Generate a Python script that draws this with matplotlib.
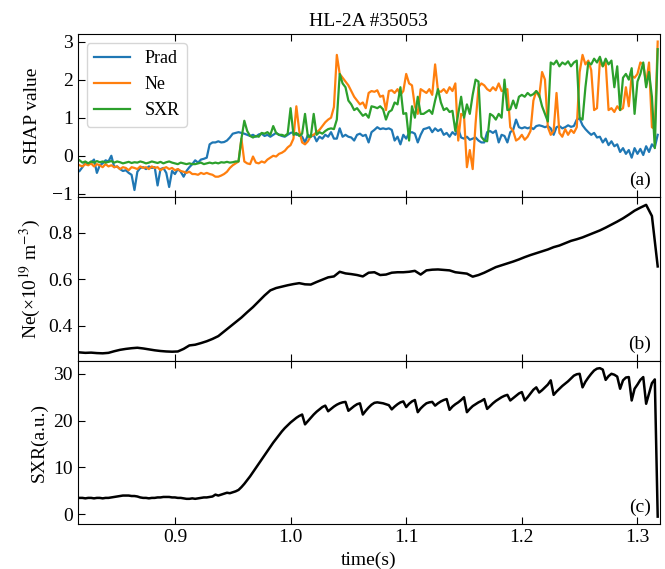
import numpy as np
import matplotlib
matplotlib.use('Agg')
import matplotlib.pyplot as plt

plt.rcParams['font.family'] = ['Liberation Serif', 'DejaVu Serif']
plt.rcParams['mathtext.fontset'] = 'stix'
plt.rcParams['font.size'] = 13

# time grid for the SHAP traces and the SXR signal (s)
t = np.linspace(0.8175, 1.3175, 201)
# coarser grid for the density trace
t_ne = np.linspace(0.8175, 1.3175, 101)

shap_prad = [
    -0.40, -0.30, -0.18, -0.22, -0.18, -0.10, -0.45, -0.25, -0.20, -0.12,
    -0.15, 0.00, -0.30, -0.28, -0.35, -0.40, -0.38, -0.45, -0.50, -0.90,
    -0.42, -0.32, -0.30, -0.35, -0.28, -0.32, -0.30, -0.78, -0.35, -0.32,
    -0.45, -0.82, -0.40, -0.48, -0.35, -0.42, -0.55, -0.40, -0.30, -0.22,
    -0.12, -0.18, -0.10, -0.08, -0.05, 0.30, 0.35, 0.35, 0.38, 0.35,
    0.36, 0.40, 0.48, 0.58, 0.60, 0.62, 0.60, 0.58, 0.55, 0.52,
    0.55, 0.50, 0.56, 0.58, 0.52, 0.55, 0.50, 0.55, 0.60, 0.55,
    0.52, 0.50, 0.55, 0.60, 0.62, 0.55, 0.58, 0.50, 0.35, 0.55,
    0.50, 0.55, 0.38, 0.50, 0.45, 0.55, 0.50, 0.62, 0.45, 0.45,
    0.72, 0.50, 0.55, 0.50, 0.48, 0.40, 0.55, 0.58, 0.52, 0.55,
    0.35, 0.62, 0.68, 0.75, 0.70, 0.72, 0.70, 0.72, 0.68, 0.40,
    0.50, 0.30, 0.55, 0.45, 0.60, 0.62, 0.58, 0.35, 0.55, 0.70,
    0.72, 0.75, 0.62, 0.72, 0.65, 0.70, 0.55, 0.60, 0.50, 0.62,
    0.55, 0.70, 0.48, 0.45, 0.50, 0.42, 0.45, 0.48, 0.40, 0.35,
    0.35, 0.62, 0.65, 0.60, 0.66, 0.35, 0.55, 0.52, 0.35, 0.62,
    0.68, 0.95, 0.75, 0.72, 0.75, 0.72, 0.75, 0.70, 0.78, 0.80,
    0.78, 0.75, 0.78, 0.72, 0.55, 0.75, 0.78, 0.72, 0.75, 0.80,
    0.76, 0.78, 0.95, 0.98, 0.80, 0.70, 0.62, 0.55, 0.60, 0.48,
    0.50, 0.35, 0.45, 0.28, 0.38, 0.25, 0.30, 0.10, 0.20, 0.05,
    0.15, -0.05, 0.20, 0.05, 0.18, 0.02, 0.25, 0.10, 0.30, 0.22,
    0.55,
]

shap_ne = [
    -0.25, -0.28, -0.22, -0.25, -0.20, -0.28, -0.22, -0.25, -0.30, -0.22,
    -0.28, -0.25, -0.30, -0.28, -0.35, -0.30, -0.32, -0.38, -0.30, -0.32,
    -0.35, -0.28, -0.32, -0.30, -0.35, -0.28, -0.32, -0.30, -0.38, -0.33,
    -0.30, -0.35, -0.32, -0.38, -0.35, -0.40, -0.42, -0.45, -0.42, -0.48,
    -0.48, -0.50, -0.45, -0.48, -0.45, -0.48, -0.50, -0.55, -0.55, -0.52,
    -0.48, -0.42, -0.32, -0.25, -0.20, -0.15, 0.45, -0.15, -0.20, -0.22,
    -0.02, -0.18, -0.20, -0.15, -0.18, -0.10, -0.05, 0.00, -0.02, 0.05,
    0.08, 0.13, 0.22, 0.28, 0.45, 1.30, 0.65, 0.35, 0.30, 0.38,
    0.52, 0.55, 0.62, 0.68, 0.78, 0.88, 0.95, 1.00, 1.28, 2.65,
    2.15, 2.05, 1.95, 1.85, 1.70, 1.55, 1.45, 1.35, 1.40, 1.25,
    1.65, 1.70, 1.68, 1.72, 1.55, 1.58, 1.20, 1.70, 1.72, 1.65,
    1.75, 1.60, 1.70, 2.15, 1.90, 1.85, 1.30, 1.10, 1.75, 1.70,
    1.65, 1.75, 1.60, 2.40, 1.70, 1.68, 1.75, 1.65, 1.80, 1.70,
    1.90, 0.40, 1.10, 1.05, -0.30, 0.15, -0.35, 0.85, 1.80, 1.90,
    1.85, 1.75, 1.70, 1.80, 1.72, 1.90, 1.70, 1.72, 1.75, 0.75,
    0.65, 0.40, 0.45, 0.55, 0.42, 0.50, 0.65, 1.45, 1.70, 1.55,
    2.20, 2.00, 0.75, 0.55, 0.65, 1.65, 0.60, 0.50, 0.70, 0.55,
    0.68, 0.60, 0.75, 2.20, 2.65, 2.40, 2.50, 2.25, 1.20, 1.25,
    2.50, 2.35, 2.45, 1.20, 1.25, 1.15, 1.30, 1.20, 1.25, 1.80,
    1.30, 2.10, 2.05, 2.15, 2.45, 2.40, 1.90, 2.45, 0.75, 0.70,
    3.00,
]

shap_sxr = [
    -0.12, -0.18, -0.15, -0.20, -0.15, -0.18, -0.14, -0.17, -0.15, -0.18,
    -0.16, -0.14, -0.18, -0.15, -0.17, -0.20, -0.18, -0.16, -0.19, -0.17,
    -0.18, -0.15, -0.17, -0.20, -0.18, -0.15, -0.17, -0.19, -0.16, -0.20,
    -0.17, -0.15, -0.18, -0.20, -0.22, -0.18, -0.20, -0.22, -0.20, -0.22,
    -0.22, -0.20, -0.18, -0.22, -0.20, -0.18, -0.20, -0.18, -0.20, -0.17,
    -0.18, -0.16, -0.18, -0.17, -0.15, -0.15, 0.45, 0.92, 0.65, 0.52,
    0.48, 0.52, 0.50, 0.60, 0.58, 0.62, 0.55, 0.78, 0.60, 0.55,
    0.55, 0.52, 0.58, 1.25, 0.55, 0.60, 0.52, 0.58, 1.10, 0.50,
    0.50, 1.10, 0.55, 0.62, 0.58, 0.65, 0.70, 0.72, 0.70, 0.95,
    2.15, 1.90, 1.80, 1.45, 1.35, 1.20, 1.25, 1.15, 1.05, 1.10,
    1.00, 1.30, 1.28, 1.25, 1.30, 1.22, 0.95, 1.15, 1.20, 1.40,
    1.35, 1.80, 1.10, 1.12, 0.40, 1.30, 1.00, 1.55, 1.10, 1.10,
    1.15, 1.20, 1.10, 1.45, 1.75, 1.40, 1.20, 1.25, 1.15, 1.18,
    0.65, 1.10, 1.55, 1.00, 1.35, 1.10, 1.60, 2.00, 1.95, 0.50,
    0.40, 0.38, 1.10, 1.05, 0.95, 1.10, 1.00, 2.00, 1.20, 1.22,
    1.45, 1.25, 1.55, 1.60, 1.55, 1.65, 1.58, 1.62, 1.70, 1.60,
    1.30, 1.10, 0.90, 2.45, 2.40, 2.50, 2.35, 2.45, 2.40, 2.48,
    2.35, 2.45, 2.50, 1.00, 0.95, 1.80, 2.45, 2.40, 2.55, 2.45,
    2.60, 2.35, 2.55, 2.40, 2.50, 1.80, 2.35, 1.20, 2.05, 2.15,
    2.00, 2.30, 1.10, 1.95, 2.15, 2.45, 1.80, 2.20, 1.55, 0.20,
    2.80,
]

ne = [
    0.285, 0.283, 0.284, 0.282, 0.281, 0.283, 0.290, 0.296, 0.300, 0.303,
    0.305, 0.302, 0.298, 0.294, 0.291, 0.289, 0.288, 0.289, 0.300, 0.315,
    0.318, 0.325, 0.333, 0.343, 0.355, 0.375, 0.395, 0.415, 0.435, 0.458,
    0.480, 0.505, 0.530, 0.552, 0.562, 0.568, 0.574, 0.579, 0.583, 0.578,
    0.577, 0.588, 0.598, 0.608, 0.612, 0.632, 0.625, 0.622, 0.618, 0.612,
    0.628, 0.630, 0.618, 0.620, 0.628, 0.630, 0.630, 0.632, 0.636, 0.620,
    0.638, 0.641, 0.642, 0.640, 0.638, 0.630, 0.627, 0.624, 0.611, 0.618,
    0.628, 0.640, 0.652, 0.660, 0.668, 0.676, 0.685, 0.695, 0.704, 0.712,
    0.720, 0.728, 0.738, 0.745, 0.755, 0.765, 0.772, 0.780, 0.790, 0.800,
    0.810, 0.822, 0.835, 0.848, 0.862, 0.878, 0.895, 0.908, 0.920, 0.872,
    0.655,
]

sxr = [
    3.5, 3.5, 3.4, 3.5, 3.5, 3.4, 3.5, 3.5, 3.4, 3.5,
    3.5, 3.6, 3.7, 3.8, 3.9, 4.0, 4.0, 4.0, 3.9, 3.9,
    3.8, 3.6, 3.5, 3.5, 3.4, 3.5, 3.5, 3.6, 3.6, 3.7,
    3.7, 3.7, 3.6, 3.6, 3.5, 3.5, 3.4, 3.3, 3.3, 3.4,
    3.3, 3.4, 3.5, 3.6, 3.6, 3.7, 3.8, 4.2, 4.0, 4.2,
    4.4, 4.6, 4.5, 4.7, 4.9, 5.2, 5.8, 6.5, 7.3, 8.1,
    9.0, 9.9, 10.8, 11.7, 12.6, 13.5, 14.4, 15.3, 16.1, 16.9,
    17.7, 18.4, 19.0, 19.6, 20.1, 20.6, 21.0, 21.3, 19.2, 19.9,
    20.6, 21.3, 21.9, 22.4, 22.9, 23.2, 22.0, 22.5, 23.0, 23.4,
    23.7, 23.9, 24.0, 22.1, 22.6, 23.1, 23.5, 23.7, 21.3, 22.1,
    22.8, 23.4, 23.8, 23.9, 23.8, 23.7, 23.5, 23.3, 22.4, 23.0,
    23.5, 23.9, 24.1, 22.9, 23.6, 24.1, 24.4, 21.8, 22.6, 23.2,
    23.7, 23.9, 24.0, 23.2, 23.7, 24.1, 24.4, 24.6, 22.3, 23.0,
    23.5, 23.9, 24.4, 25.0, 21.8, 22.5, 23.1, 23.5, 23.9, 24.2,
    24.6, 22.5, 23.1, 23.7, 24.2, 24.6, 25.0, 25.3, 25.5, 24.3,
    24.8, 25.3, 25.8, 26.1, 24.3, 25.0, 25.8, 26.6, 27.1, 26.0,
    26.5, 27.1, 27.7, 28.6, 25.5, 26.2, 26.8, 27.4, 27.9, 28.4,
    29.0, 29.6, 29.9, 30.0, 27.1, 28.3, 29.2, 30.0, 30.7, 31.1,
    31.2, 30.9, 28.7, 29.5, 30.0, 29.8, 29.4, 26.8, 28.6, 29.2,
    29.3, 24.3, 26.8, 27.7, 28.7, 29.3, 23.6, 25.8, 28.0, 28.8,
    -0.5,
]

fig, axes = plt.subplots(3, 1, figsize=(6.65, 5.69), dpi=100, sharex=True)
fig.subplots_adjust(left=0.117, right=0.9925, top=0.940, bottom=0.079, hspace=0)

ax = axes[0]
ax.plot(t, shap_prad, color='tab:blue', lw=1.6, label='Prad')
ax.plot(t, shap_ne, color='tab:orange', lw=1.6, label='Ne')
ax.plot(t, shap_sxr, color='tab:green', lw=1.6, label='SXR')
ax.set_ylabel('SHAP value', fontsize=14, labelpad=8)
ax.set_yticks([-1, 0, 1, 2, 3])
ax.set_title('HL-2A #35053', fontsize=14)
ax.legend(loc='upper left', fontsize=13)
ax.text(0.985, 0.05, '(a)', transform=ax.transAxes, ha='right', va='bottom', fontsize=14)

ax = axes[1]
ax.plot(t_ne, ne, color='black', lw=1.8)
ax.set_ylabel('Ne(×10$^{19}$ m$^{-3}$)', fontsize=14)
ax.set_yticks([0.4, 0.6, 0.8])
ax.text(0.985, 0.05, '(b)', transform=ax.transAxes, ha='right', va='bottom', fontsize=14)

ax = axes[2]
ax.plot(t, sxr, color='black', lw=1.8)
ax.set_ylabel('SXR(a.u.)', fontsize=14)
ax.set_yticks([0, 10, 20, 30])
ax.set_xlabel('time(s)', fontsize=14)
ax.text(0.985, 0.05, '(c)', transform=ax.transAxes, ha='right', va='bottom', fontsize=14)

for ax in axes:
    ax.set_xlim(0.816, 1.3195)
    ax.tick_params(direction='in', top=True, right=False, labelsize=14, length=5)
axes[2].set_xticks([0.9, 1.0, 1.1, 1.2, 1.3])

fig.savefig('out.png', dpi=100)
